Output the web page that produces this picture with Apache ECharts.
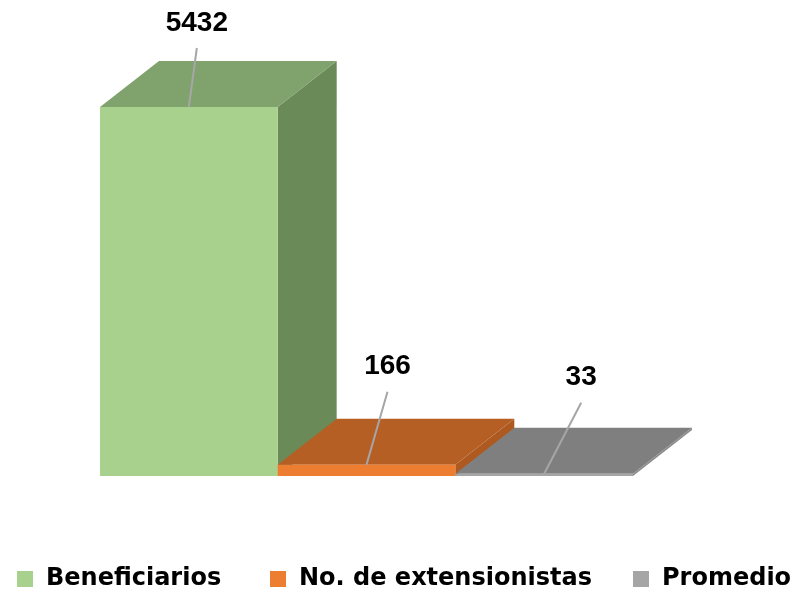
<!DOCTYPE html>
<html>
<head>
<meta charset="utf-8">
<script src="https://cdn.jsdelivr.net/npm/echarts@6/dist/echarts.min.js"></script>
<style>
  html, body { margin: 0; padding: 0; background: #fff; }
  #main { width: 795px; height: 592px; }
</style>
</head>
<body>
<div id="main"></div>
<script>
// datos del grafico
const categories = ['Beneficiarios', 'No. de extensionistas', 'Promedio'];
const values = [5432, 166, 33];

// colores: frente, tapa, lateral
const frontColors = ['#A9D18E', '#ED7D31', '#A5A5A5'];
const topColors = ['#80A26C', '#B65F24', '#7F7F7F'];
const sideColors = ['#6A8A58', '#AE591F', '#8C8C8C'];
// desplazamiento de cada etiqueta respecto al centro del borde superior
const labelShift = [[8, -84], [21, -98], [37, -96]];
const legendLeft = [17, 270, 633];

const DX = 59, DY = -46;

let chart = echarts.init(document.getElementById('main'));

function makeRender(i) {
    return function (params, api) {
        const idx = api.value(0);
        const val = api.value(1);
        const base = api.coord([idx, 0]);
        const top = api.coord([idx, val]);
        const w = api.size([1, 0])[0];
        const x0 = base[0] - w / 2, x1 = base[0] + w / 2;
        const yb = base[1], yt = top[1];
        const cx = base[0];
        const lx = cx + labelShift[i][0], ly = yt + labelShift[i][1];
        return {
            type: 'group',
            children: [
                {
                    type: 'polygon',
                    shape: { points: [[x1, yt], [x1 + DX, yt + DY], [x1 + DX, yb + DY], [x1, yb]] },
                    style: { fill: sideColors[i] }
                },
                {
                    type: 'polygon',
                    shape: { points: [[x0, yt], [x1, yt], [x1 + DX, yt + DY], [x0 + DX, yt + DY]] },
                    style: { fill: topColors[i] }
                },
                {
                    type: 'rect',
                    shape: { x: x0, y: yt, width: w, height: yb - yt },
                    style: { fill: frontColors[i] }
                },
                {
                    type: 'line',
                    shape: { x1: cx, y1: yt, x2: lx, y2: ly + 25 },
                    style: { stroke: '#A6A6A6', lineWidth: 2 }
                },
                {
                    type: 'text',
                    style: {
                        text: String(val), x: lx, y: ly,
                        fill: '#000', align: 'center', verticalAlign: 'middle',
                        font: 'bold 28px "Liberation Sans", Arial, sans-serif'
                    }
                }
            ]
        };
    };
}

const series = categories.map((name, i) => ({
    name: name,
    type: 'custom',
    renderItem: makeRender(i),
    itemStyle: { color: frontColors[i] },
    data: [[i, values[i]]],
    encode: { x: 0, y: 1 },
    clip: false,
    silent: true
}));

chart.setOption({
    animation: false,
    grid: { left: 100, width: 533, top: 107, bottom: 116 },
    xAxis: { type: 'category', data: categories, show: false },
    yAxis: { type: 'value', min: 0, max: 5432, show: false },
    legend: categories.map((name, i) => ({
        data: [name],
        left: legendLeft[i],
        top: 567,
        padding: 0,
        icon: 'rect',
        itemWidth: 16,
        itemHeight: 16,
        itemGap: 0,
        selectedMode: false,
        textStyle: {
            fontFamily: '"DejaVu Sans", sans-serif',
            fontWeight: 'bold',
            fontSize: 24,
            color: '#000',
            padding: [0, 0, 0, 8]
        }
    })),
    series: series
});
</script>
</body>
</html>
